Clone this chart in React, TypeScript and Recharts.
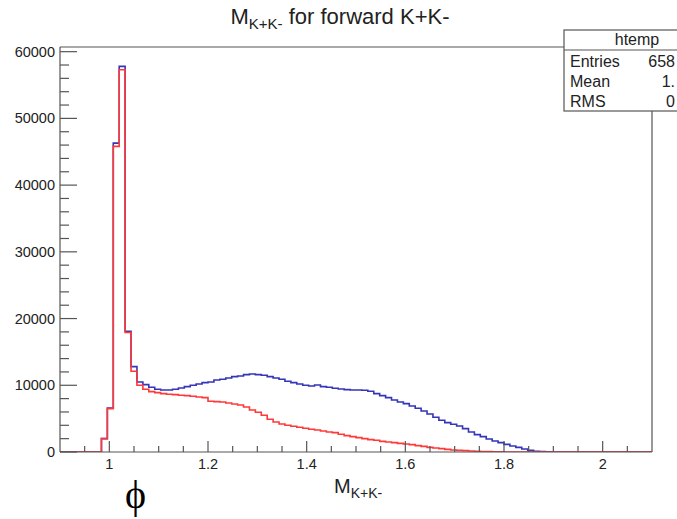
import React from 'react';
import { ComposedChart, Line, XAxis, YAxis, ReferenceLine } from 'recharts';

// histogram binning: 100 bins from 0.9 to 2.1
const BIN_LO = 0.9;
const BIN_W = 0.012;
const X_MIN = 0.9;
const X_MAX = 2.1;
const Y_MAX = 60700;

// bin contents (blue = all, red = selected)
const blueCounts = [
  0, 0, 0, 0, 0, 0, 0, 2000, 6600, 46300,
  57800, 18100, 12800, 10500, 10100, 9700, 9400, 9300, 9300, 9400,
  9600, 9800, 10000, 10200, 10400, 10500, 10800, 10900, 11100, 11300,
  11400, 11600, 11700, 11600, 11500, 11300, 11100, 10900, 10600, 10400,
  10200, 10000, 9900, 10050, 9800, 9700, 9550, 9450, 9350, 9300,
  9300, 9250, 9100, 8750, 8450, 8150, 7800, 7500, 7250, 6900,
  6550, 6150, 5700, 5200, 4750, 4400, 4150, 3900, 3500, 3000,
  2600, 2300, 1950, 1650, 1400, 1150, 900, 700, 450, 250,
  120, 50, 20, 0, 0, 0, 0, 0, 0, 0,
  0, 0, 0, 0, 0, 0, 0, 0, 0, 0,
];

const redCounts = [
  0, 0, 0, 0, 0, 0, 0, 2000, 6500, 45800,
  57300, 17900, 12100, 10000, 9400, 9050, 8900, 8750, 8650, 8600,
  8500, 8450, 8350, 8250, 8150, 7600, 7550, 7500, 7350, 7200,
  7050, 6750, 6300, 5950, 5500, 4900, 4500, 4200, 4000, 3850,
  3700, 3550, 3400, 3300, 3150, 3000, 2900, 2650, 2450, 2300,
  2150, 2000, 1850, 1750, 1600, 1500, 1400, 1300, 1200, 1100,
  950, 850, 700, 600, 500, 400, 300, 250, 200, 150,
  100, 70, 50, 30, 20, 0, 0, 0, 0, 0,
  0, 0, 0, 0, 0, 0, 0, 0, 0, 0,
  0, 0, 0, 0, 0, 0, 0, 0, 0, 0,
];

const xTicks = [
  0.95, 1, 1.05, 1.1, 1.15, 1.2, 1.25, 1.3, 1.35, 1.4, 1.45, 1.5,
  1.55, 1.6, 1.65, 1.7, 1.75, 1.8, 1.85, 1.9, 1.95, 2, 2.05,
];
const xLabels = [1, 1.2, 1.4, 1.6, 1.8, 2];

const yTicks = [
  0, 2000, 4000, 6000, 8000, 10000, 12000, 14000, 16000, 18000, 20000,
  22000, 24000, 26000, 28000, 30000, 32000, 34000, 36000, 38000, 40000,
  42000, 44000, 46000, 48000, 50000, 52000, 54000, 56000, 58000, 60000,
];
const yLabels = [0, 10000, 20000, 30000, 40000, 50000, 60000];

// stats box, as much of it as shows inside the picture
const statNames = ['Entries', 'Mean', 'RMS'];
const statValues = ['658', '1.', '0'];

// step-after points at each bin's low edge, plus the closing edge
const rows = blueCounts.map((b, i) => ({
  x: +(BIN_LO + i * BIN_W).toFixed(3),
  blue: b,
  red: redCounts[i],
}));
rows.push({ x: X_MAX, blue: blueCounts[99], red: redCounts[99] });

const W = 677;
const H = 519;
const PLOT_LEFT = 60;
const PLOT_RIGHT = 652;
const PLOT_TOP = 47;
const PLOT_BOTTOM = 452;
const AXIS = '#555';
const FONT = '"Liberation Sans", Arial, Helvetica, sans-serif';

const YTick = (props: any) => {
  const { y, payload } = props;
  const major = yLabels.includes(payload.value);
  return (
    <g>
      <line x1={PLOT_LEFT} x2={PLOT_LEFT + (major ? 17 : 9)} y1={y} y2={y} stroke={AXIS} strokeWidth={1.2} />
      {major && (
        <text x={55} y={y} textAnchor="end" dominantBaseline="central" fontFamily={FONT} fontSize={14.5} fill="#222">
          {payload.value}
        </text>
      )}
    </g>
  );
};

const XTick = (props: any) => {
  const { x, payload } = props;
  const major = xLabels.includes(payload.value);
  return (
    <g>
      <line x1={x} x2={x} y1={PLOT_BOTTOM} y2={PLOT_BOTTOM - (major ? 11 : 6)} stroke={AXIS} strokeWidth={1.2} />
      {major && (
        <text x={x} y={PLOT_BOTTOM + 17} textAnchor="middle" fontFamily={FONT} fontSize={14.5} fill="#222">
          {payload.value}
        </text>
      )}
    </g>
  );
};

export default function App() {
  return (
    <div style={{ position: 'absolute', left: 0, top: 0, width: W, height: H, background: '#fff' }}>
      <ComposedChart
        width={W}
        height={H}
        data={rows}
        margin={{ top: PLOT_TOP, right: W - PLOT_RIGHT, left: 0, bottom: 0 }}
      >
        <XAxis
          dataKey="x"
          type="number"
          domain={[X_MIN, X_MAX]}
          allowDataOverflow
          ticks={xTicks}
          interval={0}
          tick={<XTick />}
          tickLine={false}
          axisLine={{ stroke: AXIS, strokeWidth: 1.2 }}
          height={H - PLOT_BOTTOM}
        />
        <YAxis
          type="number"
          domain={[0, Y_MAX]}
          allowDataOverflow
          ticks={yTicks}
          interval={0}
          tick={<YTick />}
          tickLine={false}
          axisLine={{ stroke: AXIS, strokeWidth: 1.2 }}
          width={PLOT_LEFT}
        />
        <ReferenceLine y={Y_MAX} stroke={AXIS} strokeWidth={1.2} />
        <ReferenceLine x={X_MAX} stroke={AXIS} strokeWidth={1.2} />
        <Line
          type="stepAfter"
          dataKey="blue"
          stroke="#3535b8"
          strokeWidth={1.6}
          dot={false}
          activeDot={false}
          isAnimationActive={false}
        />
        <Line
          type="stepAfter"
          dataKey="red"
          stroke="#ff3838"
          strokeWidth={1.6}
          dot={false}
          activeDot={false}
          isAnimationActive={false}
        />
      </ComposedChart>
      <svg
        width={W}
        height={H}
        style={{ position: 'absolute', left: 0, top: 0, pointerEvents: 'none' }}
      >
        <text x={340} y={24} textAnchor="middle" fontFamily={FONT} fontSize={22} fill="#222">
          M
          <tspan fontSize={15} dy={5}>K+K-</tspan>
          <tspan dy={-5}> for forward K+K-</tspan>
        </text>
        <g fontFamily={FONT} fill="#222" fontSize={16}>
          <rect x={564} y={30} width={200} height={81} fill="#fff" stroke={AXIS} strokeWidth={1.2} />
          <line x1={564} x2={764} y1={50} y2={50} stroke={AXIS} strokeWidth={1.2} />
          <text x={637} y={45} textAnchor="middle">htemp</text>
          {statNames.map((name, i) => (
            <g key={name}>
              <text x={570} y={67 + i * 20}>{name}</text>
              <text x={675} y={67 + i * 20} textAnchor="end">{statValues[i]}</text>
            </g>
          ))}
        </g>
        <text x={334} y={493} fontFamily={FONT} fontSize={20} fill="#222">
          M
          <tspan fontSize={14} dy={5}>K+K-</tspan>
        </text>
        <text x={125} y={508} fontFamily='"Liberation Serif", "Times New Roman", serif' fontSize={40} fill="#000">
          ϕ
        </text>
      </svg>
    </div>
  );
}
